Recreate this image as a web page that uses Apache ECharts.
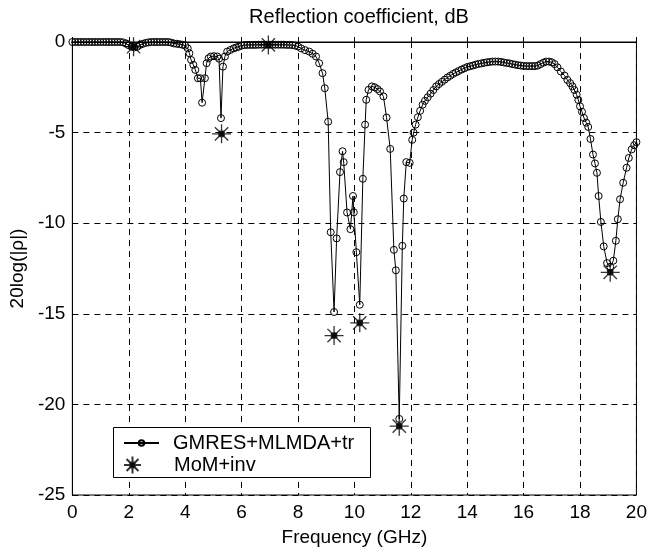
<!DOCTYPE html>
<html>
<head>
<meta charset="utf-8">
<script src="https://cdn.jsdelivr.net/npm/echarts@6/dist/echarts.min.js"></script>
<style>html,body{margin:0;padding:0;background:#fff}#c{width:650px;height:552px}</style>
</head>
<body>
<div id="c"></div>
<script>
// GMRES+MLMDA+tr curve (frequency in GHz, 20log|rho| in dB)
var gmresFreq = [
  0.0,0.1,0.2,0.3,0.4,0.5,0.6,0.7,0.8,0.9,1.0,1.1,1.2,1.3,1.4,1.5,1.6,1.7,1.8,1.9,
  2.0,2.1,2.2,2.3,2.4,2.5,2.6,2.7,2.8,2.9,3.0,3.1,3.2,3.3,3.4,3.5,3.6,3.7,3.8,3.9,
  4.0,4.09,4.15,4.21,4.29,4.36,4.45,4.54,4.6,4.7,4.76,4.83,4.91,5.02,5.14,5.2,5.27,5.34,5.41,5.49,
  5.6,5.72,5.81,5.9,6.0,6.1,6.2,6.3,6.4,6.5,6.6,6.7,6.8,6.9,7.0,7.1,7.2,7.3,7.4,7.5,
  7.6,7.7,7.8,7.9,8.0,8.11,8.25,8.4,8.52,8.64,8.75,8.87,8.95,9.07,9.16,9.28,9.37,9.49,9.58,9.62,
  9.74,9.86,9.95,9.98,10.07,10.19,10.3,10.38,10.42,10.5,10.62,10.72,10.82,10.91,11.03,11.14,11.27,11.4,11.47,11.59,
  11.7,11.75,11.84,11.96,12.05,12.1,12.17,12.25,12.33,12.42,12.5,12.6,12.7,12.8,12.9,13.0,13.1,13.2,13.3,13.4,
  13.5,13.6,13.7,13.8,13.9,14.0,14.1,14.2,14.3,14.4,14.5,14.6,14.7,14.8,14.9,15.0,15.1,15.2,15.3,15.4,
  15.5,15.6,15.7,15.8,15.9,16.0,16.1,16.2,16.3,16.4,16.5,16.6,16.7,16.8,16.9,17.0,17.1,17.2,17.32,17.45,
  17.55,17.65,17.73,17.8,17.88,17.94,18.0,18.07,18.14,18.22,18.29,18.37,18.46,18.53,18.6,18.66,18.74,18.84,18.96,19.07,
  19.18,19.27,19.34,19.42,19.53,19.65,19.73,19.83,19.92,20.0
];
var gmresDb = [
  0,0,0,0,0,0,0,0,0,0,0,0,0,0,0,0,0,0,-0.02,-0.08,
  -0.18,-0.26,-0.3,-0.26,-0.16,-0.1,-0.05,-0.02,0,0,0,0,0,0,0,-0.03,-0.08,-0.1,-0.12,-0.15,
  -0.2,-0.35,-0.62,-0.99,-1.26,-1.54,-2.0,-2.0,-3.35,-2.0,-1.17,-0.9,-0.8,-0.78,-0.8,-0.92,-4.2,-1.36,-0.8,-0.53,
  -0.44,-0.35,-0.3,-0.26,-0.2,-0.17,-0.16,-0.16,-0.16,-0.16,-0.15,-0.15,-0.15,-0.15,-0.15,-0.15,-0.15,-0.15,-0.15,-0.15,
  -0.16,-0.16,-0.17,-0.2,-0.25,-0.35,-0.45,-0.53,-0.65,-0.8,-1.17,-1.72,-2.55,-4.4,-10.5,-14.9,-10.84,-7.18,-6.03,-6.63,
  -9.41,-10.33,-8.5,-9.4,-11.6,-14.5,-7.55,-4.56,-3.19,-2.64,-2.45,-2.5,-2.6,-2.73,-3.0,-4.17,-5.9,-11.47,-12.6,-20.8,
  -11.25,-8.64,-6.63,-6.67,-5.4,-5.0,-4.56,-4.15,-3.8,-3.46,-3.25,-3.05,-2.85,-2.65,-2.45,-2.32,-2.2,-2.08,-1.96,-1.86,
  -1.76,-1.68,-1.6,-1.52,-1.45,-1.38,-1.34,-1.3,-1.25,-1.21,-1.18,-1.15,-1.12,-1.1,-1.08,-1.08,-1.08,-1.1,-1.13,-1.16,
  -1.18,-1.22,-1.25,-1.28,-1.3,-1.32,-1.33,-1.33,-1.33,-1.33,-1.3,-1.22,-1.14,-1.08,-1.08,-1.12,-1.22,-1.4,-1.63,-1.85,
  -2.09,-2.27,-2.45,-2.65,-2.91,-3.2,-3.55,-3.85,-4.19,-4.45,-4.69,-5.35,-6.21,-6.7,-7.22,-8.5,-9.93,-11.28,-12.2,-12.4,
  -12.07,-10.97,-9.78,-8.68,-7.77,-6.94,-6.4,-5.93,-5.7,-5.53
];
// MoM+inv reference points
var momFreq = [2.17, 5.29, 6.95, 9.28, 10.19, 11.59, 19.07];
var momDb   = [-0.26, -5.07, -0.16, -16.2, -15.5, -21.2, -12.71];

var seriesNames = ['GMRES+MLMDA+tr', 'MoM+inv'];
var titleText = 'Reflection coefficient, dB';
var xName = 'Frequency (GHz)';
var yName = '20log(|\u03c1|)';

var gmresData = gmresFreq.map(function (f, i) { return [f, gmresDb[i]]; });
var momData = momFreq.map(function (f, i) { return [f, momDb[i]]; });

var FONT = "'Liberation Sans', Arial, sans-serif";
var chart = echarts.init(document.getElementById('c'), null, { renderer: 'canvas' });
var star = 'path://M0,5L10,5M5,0L5,10M1.5,1.5L8.5,8.5M8.5,1.5L1.5,8.5M3.6,3.6L6.4,3.6L6.4,6.4L3.6,6.4Z';
function legendText(pad) { return { fontFamily: FONT, fontSize: 20, color: '#000', padding: [0, 0, 0, pad] }; }

chart.setOption({
  animation: false,
  backgroundColor: '#fff',
  title: {
    text: titleText,
    left: 354, top: 2, textAlign: 'center',
    textStyle: { fontFamily: FONT, fontSize: 20, fontWeight: 'normal', color: '#000' }
  },
  grid: {
    left: 68, right: 10, top: 42, bottom: 55,
    show: true, borderColor: '#000', borderWidth: 1, backgroundColor: 'transparent'
  },
  graphic: [{
    type: 'rect', z: 3,
    shape: { x: 113.5, y: 427.5, width: 257, height: 50 },
    style: { fill: '#fff', stroke: '#000', lineWidth: 1 }
  }],
  legend: [
    {
      left: 123, top: 433, orient: 'vertical', padding: 0, z: 5,
      itemWidth: 35, itemHeight: 7,
      textStyle: legendText(9),
      data: [seriesNames[0]]
    },
    {
      left: 123, top: 455, orient: 'vertical', padding: 0, z: 5,
      itemWidth: 35, itemHeight: 17,
      textStyle: legendText(19),
      data: [seriesNames[1]]
    }
  ],
  xAxis: {
    type: 'value', min: 0, max: 20, interval: 2,
    name: xName, nameLocation: 'middle', nameGap: 33,
    nameTextStyle: { fontFamily: FONT, fontSize: 19, color: '#000' },
    axisLine: { lineStyle: { color: '#000', width: 1 } },
    axisTick: { inside: true, length: 5, lineStyle: { color: '#000' } },
    axisLabel: { fontFamily: FONT, fontSize: 19, color: '#000', margin: 8 },
    splitLine: { show: true, lineStyle: { color: '#000', width: 1, type: [6, 5] } }
  },
  yAxis: {
    type: 'value', min: -25, max: 0, interval: 5,
    name: yName, nameLocation: 'middle', nameGap: 42, nameRotate: 90,
    nameTextStyle: { fontFamily: FONT, fontSize: 19, color: '#000' },
    axisLine: { show: true, lineStyle: { color: '#000', width: 1 } },
    axisTick: { show: true, inside: true, length: 5, lineStyle: { color: '#000' } },
    axisLabel: { fontFamily: FONT, fontSize: 19, color: '#000', margin: 7 },
    splitLine: { show: true, lineStyle: { color: '#000', width: 1, type: [6, 5] } }
  },
  series: [
    {
      name: seriesNames[0], type: 'line', data: gmresData,
      symbol: 'circle', symbolSize: 7, showSymbol: true, showAllSymbol: true,
      lineStyle: { color: '#000', width: 1 },
      itemStyle: { color: 'rgba(255,255,255,0)', borderColor: '#000', borderWidth: 1 },
      z: 2
    },
    {
      name: seriesNames[1], type: 'scatter', data: momData,
      symbol: star, symbolSize: 19,
      itemStyle: { color: '#000', borderColor: '#000', borderWidth: 1.3 },
      z: 3
    }
  ]
});
</script>
</body>
</html>
